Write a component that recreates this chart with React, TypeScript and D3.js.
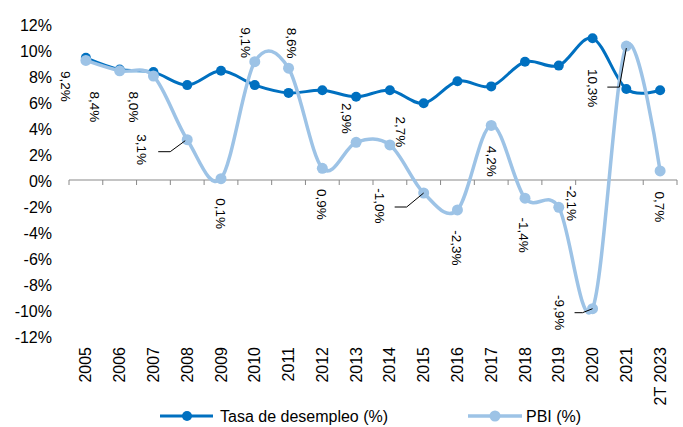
import React from "react"
import * as d3 from "d3"

// categories and values
const years = ["2005", "2006", "2007", "2008", "2009", "2010", "2011", "2012", "2013", "2014", "2015", "2016", "2017", "2018", "2019", "2020", "2021", "2T 2023"]
const desempleo = [9.4, 8.5, 8.3, 7.3, 8.4, 7.3, 6.7, 6.9, 6.4, 6.9, 5.9, 7.6, 7.2, 9.1, 8.8, 10.9, 7.0, 6.9]
const pbi = [9.2, 8.4, 8.0, 3.1, 0.1, 9.1, 8.6, 0.9, 2.9, 2.7, -1.0, -2.3, 4.2, -1.4, -2.1, -9.9, 10.3, 0.7]
const yTicks = [-12, -10, -8, -6, -4, -2, 0, 2, 4, 6, 8, 10, 12]

// label offsets from each PBI point (dx, dy) and optional leader lines
const labelOffsets: [number, number][] = [
    [-20, 26], [-25, 36], [-20, 31], [-45, 10], [0, 35], [-9, -19],
    [3, -25], [-1, 36], [-9, -24], [11, -13], [-44, 13], [-1, 38],
    [1, 36], [-1, 37], [13, -4], [-33, 4], [-34, 42], [0, 36],
]
const leaders: { [i: number]: [number, number][] } = {
    3: [[-29, 12], [-17, 12], [-2, 1]],
    10: [[-29, 14], [-17, 14], [0, 0]],
    15: [[-18, 4], [-10, 4], [0, 0]],
    16: [[-19, 41], [-7, 41], [0, 2]],
}

const DARK = "#0070C0"
const LIGHT = "#9DC3E6"
const FONT = "'Liberation Sans', Arial, sans-serif"

const fmt = (v: number) => v.toFixed(1).replace(".", ",") + "%"

export default function App() {
    const width = 683
    const height = 427

    const x = d3.scaleBand<string>().domain(years).range([69, 677]).padding(0)
    const y = d3.scaleLinear().domain([-12, 12]).range([336, 24])
    const cx = (i: number) => (x(years[i]) as number) + x.bandwidth() / 2

    const line = d3
        .line<number>()
        .x((_, i) => cx(i))
        .y((d) => y(d))
        .curve(d3.curveCardinal.tension(0))

    const boundaries = d3.range(0, years.length + 1).map((i) => 69 + i * x.bandwidth())

    return (
        <svg
            width={width}
            height={height}
            style={{ position: "absolute", left: 0, top: 0, background: "#fff" }}
            fontFamily={FONT}
        >
            {/* y axis labels */}
            {yTicks.map((t) => (
                <text key={t} x={52} y={y(t) + 1} dy="0.35em" textAnchor="end" fontSize={16} fill="#000">
                    {t + "%"}
                </text>
            ))}

            {/* x axis at zero */}
            <line x1={69} x2={677} y1={y(0)} y2={y(0)} stroke="#898989" strokeWidth={1} />
            {boundaries.map((b, i) => (
                <line key={i} x1={b} x2={b} y1={y(0)} y2={y(0) + 5} stroke="#898989" strokeWidth={1} />
            ))}

            {/* x tick labels */}
            {years.map((yr, i) => (
                <text
                    key={yr}
                    transform={`translate(${cx(i)},347) rotate(-90)`}
                    dy="0.35em"
                    textAnchor="end"
                    fontSize={16}
                    fill="#000"
                >
                    {yr}
                </text>
            ))}

            {/* desempleo */}
            <path d={line(desempleo) ?? ""} fill="none" stroke={DARK} strokeWidth={3} />
            {desempleo.map((d, i) => (
                <circle key={i} cx={cx(i)} cy={y(d)} r={5} fill={DARK} />
            ))}

            {/* PBI */}
            <path d={line(pbi) ?? ""} fill="none" stroke={LIGHT} strokeWidth={3.5} />
            {pbi.map((d, i) => (
                <circle key={i} cx={cx(i)} cy={y(d)} r={5.5} fill={LIGHT} />
            ))}

            {/* leader lines */}
            {Object.entries(leaders).map(([k, pts]) => {
                const i = +k
                const px = cx(i)
                const py = y(pbi[i])
                return (
                    <polyline
                        key={k}
                        points={pts.map(([dx, dy]) => `${px + dx},${py + dy}`).join(" ")}
                        fill="none"
                        stroke="#000"
                        strokeWidth={1}
                    />
                )
            })}

            {/* data labels */}
            {pbi.map((d, i) => {
                const [dx, dy] = labelOffsets[i]
                return (
                    <text
                        key={i}
                        transform={`translate(${cx(i) + dx},${y(d) + dy}) rotate(90)`}
                        dy="0.35em"
                        textAnchor="middle"
                        fontSize={13.5}
                        fill="#000"
                    >
                        {fmt(d)}
                    </text>
                )
            })}

            {/* legend */}
            <g transform="translate(160,416)">
                <line x1={0} x2={53} y1={0} y2={0} stroke={DARK} strokeWidth={3} />
                <circle cx={27} cy={0} r={5} fill={DARK} />
                <text x={60} y={0} dy="0.35em" fontSize={16} fill="#000">Tasa de desempleo (%)</text>
            </g>
            <g transform="translate(468,416)">
                <line x1={0} x2={54} y1={0} y2={0} stroke={LIGHT} strokeWidth={3.5} />
                <circle cx={27} cy={0} r={5.5} fill={LIGHT} />
                <text x={58} y={0} dy="0.35em" fontSize={16} fill="#000">PBI (%)</text>
            </g>
        </svg>
    )
}
